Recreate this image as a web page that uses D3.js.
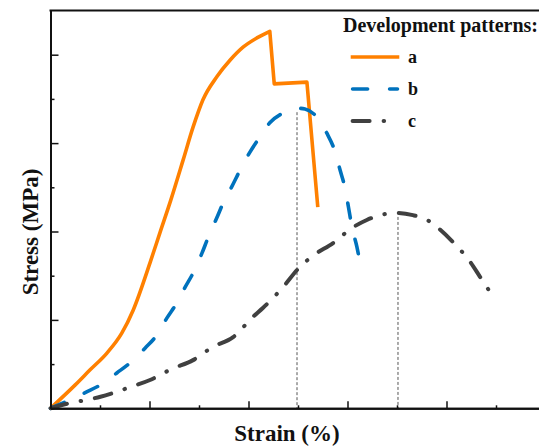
<!DOCTYPE html>
<html>
<head>
<meta charset="utf-8">
<script src="https://cdn.jsdelivr.net/npm/d3@7"></script>
<style>
  html, body { margin: 0; padding: 0; background: #ffffff; }
  svg { display: block; }
  text { font-family: "Liberation Serif", "Times New Roman", serif; font-weight: bold; fill: #111; }
</style>
</head>
<body>
<script>
// Stress–strain curves for three development patterns
const strainA = [0, 0.50, 0.80, 1.14, 1.44, 1.67, 2.01, 2.21, 2.43, 2.68, 2.88, 3.08, 3.36, 3.63, 3.89, 4.17, 4.43, 4.52, 5.18, 5.40];
const stressA = [0, 0.53, 0.87, 1.25, 1.70, 2.22, 3.29, 3.97, 4.71, 5.62, 6.36, 6.98, 7.50, 7.88, 8.17, 8.38, 8.53, 7.34, 7.38, 4.55];
// index of the peak of curve a; after it the curve breaks in straight segments
const peakIndexA = 16;

const strainB = [0, 0.39, 0.73, 1.01, 1.34, 1.61, 1.91, 2.15, 2.35, 2.55, 2.72, 2.89, 3.06, 3.19, 3.36, 3.49, 3.66, 3.83, 4.02, 4.20, 4.43, 4.70, 4.98, 5.14, 5.38, 5.58, 5.75, 5.85, 5.95, 6.02, 6.09, 6.19, 6.25];
const stressB = [0, 0.19, 0.37, 0.53, 0.80, 1.03, 1.36, 1.66, 2.04, 2.38, 2.74, 3.08, 3.51, 3.88, 4.31, 4.65, 5.01, 5.39, 5.78, 6.09, 6.46, 6.68, 6.79, 6.77, 6.59, 6.23, 5.80, 5.39, 4.98, 4.55, 4.10, 3.65, 3.31];

const strainC = [0, 0.39, 0.73, 1.01, 1.61, 2.01, 2.45, 2.88, 3.28, 3.69, 4.09, 4.29, 4.68, 5.04, 5.30, 5.71, 6.09, 6.39, 6.66, 6.98, 7.32, 7.61, 7.83, 8.13, 8.48, 8.68, 8.88];
const stressC = [0, 0.12, 0.19, 0.26, 0.48, 0.64, 0.89, 1.09, 1.39, 1.61, 2.07, 2.27, 2.72, 3.20, 3.45, 3.74, 4.08, 4.26, 4.37, 4.42, 4.37, 4.26, 4.08, 3.76, 3.31, 2.97, 2.63];

// peak markers (strain, stress) dropped to the strain axis
const peakStrain = [4.98, 7.02];
const peakStress = [6.79, 4.42];

const seriesNames = ["a", "b", "c"];
const seriesColors = ["#ff8000", "#0072bd", "#404040"];

const xMajor = [2, 4, 6, 8];
const xMinor = [1, 3, 5, 7, 9];
const yMajor = [2, 4, 6, 8];
const yMinor = [1, 3, 5, 7];

const W = 539, H = 448;
const svg = d3.select("body").append("svg").attr("width", W).attr("height", H);

const x = d3.scaleLinear().domain([0, 10]).range([50.5, 545.5]);
const y = d3.scaleLinear().domain([0, 9]).range([408.3, 10.5]);

const series = [
  { xs: strainA, ys: stressA, width: 3.6, dash: null, cap: "butt" },
  { xs: strainB, ys: stressB, width: 3.6, dash: "15,22", cap: "round" },
  { xs: strainC, ys: stressC, width: 4, dash: "17,14,0.5,14", cap: "round" }
];

// peak guide lines
svg.append("g").selectAll("line").data(peakStrain).join("line")
  .attr("x1", d => x(d)).attr("x2", d => x(d))
  .attr("y1", (d, i) => y(peakStress[i]) + 4).attr("y2", y(0))
  .attr("stroke", "#555").attr("stroke-width", 1).attr("stroke-dasharray", "3,2");

const smooth = d3.line().x(d => x(d[0])).y(d => y(d[1])).curve(d3.curveMonotoneX);
const straight = d3.line().x(d => x(d[0])).y(d => y(d[1])).curve(d3.curveLinear);

series.forEach((s, i) => {
  const pts = s.xs.map((v, k) => [v, s.ys[k]]);
  let d;
  if (i === 0) {
    // smooth rise to the peak, then sharp drops
    const rise = pts.slice(0, peakIndexA + 1);
    const fall = pts.slice(peakIndexA);
    d = smooth(rise) + straight(fall).replace(/^M/, "L");
  } else {
    d = smooth(pts);
  }
  svg.append("path")
    .attr("d", d)
    .attr("fill", "none")
    .attr("stroke", seriesColors[i])
    .attr("stroke-width", s.width)
    .attr("stroke-linejoin", "round")
    .attr("stroke-linecap", s.cap)
    .attr("stroke-dasharray", s.dash);
});

// axes with inward major and minor ticks, no labels
function styleAxis(g) {
  g.selectAll("path").attr("stroke", "#111").attr("stroke-width", 2);
  g.selectAll("line").attr("stroke", "#111").attr("stroke-width", 1.5);
  g.selectAll("text").remove();
}
svg.append("g").attr("transform", `translate(0,${y(0)})`)
  .call(d3.axisBottom(x).tickValues(xMajor).tickSizeInner(-7).tickSizeOuter(0).tickFormat(""))
  .call(styleAxis);
svg.append("g").attr("transform", `translate(0,${y(0)})`)
  .call(d3.axisBottom(x).tickValues(xMinor).tickSizeInner(-3).tickSizeOuter(0).tickFormat(""))
  .call(styleAxis);
svg.append("g").attr("transform", `translate(${x(0)},0)`)
  .call(d3.axisLeft(y).tickValues(yMajor).tickSizeInner(-8).tickSizeOuter(0).tickFormat(""))
  .call(styleAxis);
svg.append("g").attr("transform", `translate(${x(0)},0)`)
  .call(d3.axisLeft(y).tickValues(yMinor).tickSizeInner(-4).tickSizeOuter(0).tickFormat(""))
  .call(styleAxis);
// top frame line
svg.append("line")
  .attr("x1", x(0) - 1).attr("x2", x(10)).attr("y1", y(9)).attr("y2", y(9))
  .attr("stroke", "#111").attr("stroke-width", 2);

// axis titles
svg.append("text")
  .attr("x", 287).attr("y", 441)
  .attr("text-anchor", "middle").attr("font-size", 23)
  .text("Strain (%)");
svg.append("text")
  .attr("transform", "translate(38,232) rotate(-90)")
  .attr("text-anchor", "middle").attr("font-size", 23)
  .text("Stress (MPa)");

// legend
const legend = svg.append("g");
legend.append("text").attr("x", 343).attr("y", 32).attr("font-size", 20).text("Development patterns:");
const legendY = [57, 89, 121];
const legendEnd = [399.3, 397.5, 384.5];
series.forEach((s, i) => {
  legend.append("line")
    .attr("x1", i === 0 ? 350.7 : 352.6).attr("x2", legendEnd[i])
    .attr("y1", legendY[i]).attr("y2", legendY[i])
    .attr("stroke", seriesColors[i])
    .attr("stroke-width", s.width)
    .attr("stroke-linecap", s.cap)
    .attr("stroke-dasharray", s.dash);
  legend.append("text")
    .attr("x", 408).attr("y", legendY[i] + 6)
    .attr("font-size", 18)
    .text(seriesNames[i]);
});
</script>
</body>
</html>
